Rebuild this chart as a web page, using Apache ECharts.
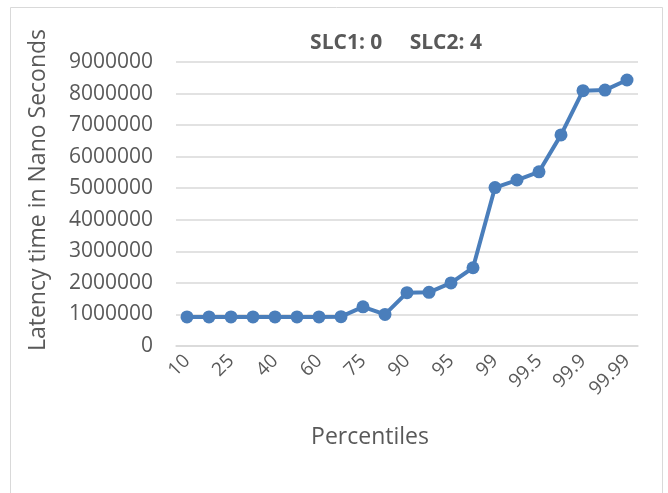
<!DOCTYPE html>
<html>
<head>
<meta charset="utf-8">
<script src="https://cdn.jsdelivr.net/npm/echarts@6/dist/echarts.min.js"></script>
<style>
  html, body { margin: 0; padding: 0; background: #fff; }
  #chart { width: 668px; height: 493px; }
</style>
</head>
<body>
<div id="chart"></div>
<script>
// percentiles (every other label is shown on the axis)
var percentiles = ['10', '20', '25', '30', '40', '50', '60', '70', '75', '80',
    '90', '92.5', '95', '97.5', '99', '99.25', '99.5', '99.75', '99.9', '99.95', '99.99'];
// latency in nanoseconds
var latency = [920000, 920000, 920000, 920000, 920000, 920000, 920000, 930000, 1240000, 1000000,
    1690000, 1700000, 2000000, 2480000, 5020000, 5260000, 5520000, 6690000, 8090000, 8110000, 8430000];

var txt = '#595959';
var font = 'Open Sans';

var myChart = echarts.init(document.getElementById('chart'));
var option = {
    animation: false,
    backgroundColor: '#fff',
    title: {
        text: 'SLC1: 0     SLC2: 4',
        left: 391,
        textAlign: 'center',
        top: 28,
        textStyle: { color: txt, fontFamily: font, fontSize: 21, fontWeight: 'bold' }
    },
    graphic: [
        {
            type: 'rect',
            shape: { x: 10.5, y: 7.5, width: 652, height: 500 },
            style: { fill: 'none', stroke: '#d9d9d9', lineWidth: 1 }
        },
        {
            type: 'text',
            x: 38, y: 190,
            rotation: Math.PI / 2,
            style: {
                text: 'Latency time in Nano Seconds',
                fill: txt, font: '23px "Open Sans"',
                align: 'center', verticalAlign: 'middle'
            }
        },
        {
            type: 'text',
            x: 370, y: 437,
            style: {
                text: 'Percentiles',
                fill: txt, font: '23px "Open Sans"',
                align: 'center', verticalAlign: 'middle'
            }
        }
    ],
    grid: { left: 176, right: 30, top: 62, bottom: 147 },
    xAxis: {
        type: 'category',
        data: percentiles,
        boundaryGap: true,
        axisLine: { lineStyle: { color: '#d9d9d9', width: 1.5 } },
        axisTick: { show: false },
        axisLabel: {
            interval: 1, rotate: 45, margin: 12,
            color: txt, fontFamily: font, fontSize: 19
        }
    },
    yAxis: {
        type: 'value',
        min: 0, max: 9000000, interval: 1000000,
        axisLine: { show: false },
        axisTick: { show: false },
        splitLine: { lineStyle: { color: '#d9d9d9', width: 1.5 } },
        axisLabel: {
            margin: 23, color: txt, fontFamily: font, fontSize: 21,
            formatter: function (v) { return String(v); }
        }
    },
    series: [{
        type: 'line',
        data: latency,
        symbol: 'circle',
        symbolSize: 13,
        lineStyle: { color: '#4a7ebb', width: 4 },
        itemStyle: { color: '#4a7ebb' }
    }]
};
myChart.setOption(option);
</script>
</body>
</html>
